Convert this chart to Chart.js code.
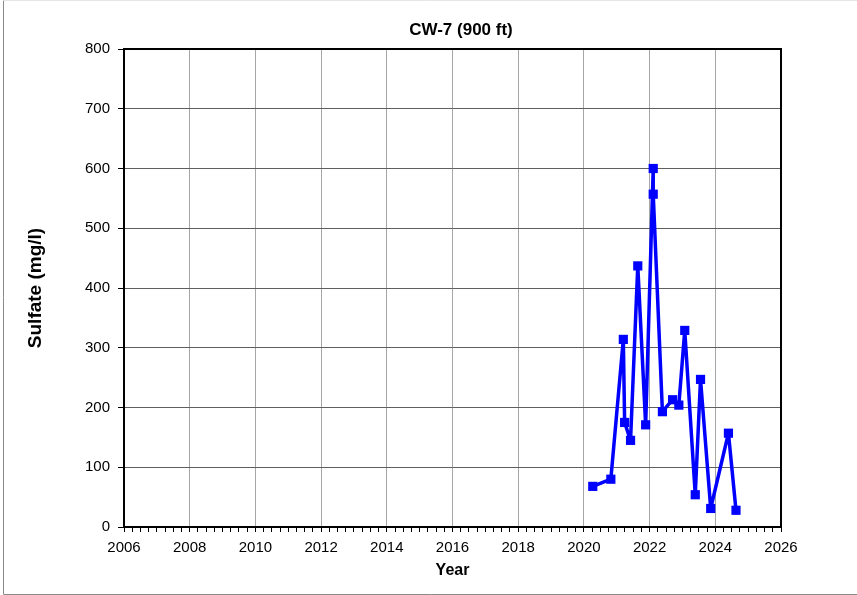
<!DOCTYPE html>
<html>
<head>
<meta charset="utf-8">
<title>CW-7 (900 ft)</title>
<script src="https://cdn.jsdelivr.net/npm/chart.js@4/dist/chart.umd.min.js"></script>
<style>
  html, body { margin: 0; padding: 0; background: #fff; }
  #wrap { width: 857px; height: 595px; }
</style>
</head>
<body>
<div id="wrap"><canvas id="sulfato" width="857" height="595"></canvas></div>
<script>
// muestreos del pozo CW-7, profundidad 900 ft
var chartTitle = 'CW-7 (900 ft)';
var sampleYears = [2020.27, 2020.82, 2021.20, 2021.24, 2021.42, 2021.64, 2021.88, 2022.11, 2022.11,
                   2022.39, 2022.70, 2022.89, 2023.07, 2023.39, 2023.55, 2023.86, 2024.40, 2024.63];
var sulfate = [68, 80, 314, 175, 145, 437, 171, 600, 557,
               193, 213, 204, 329, 54, 247, 31, 157, 28];
var yearTicks = [2006, 2008, 2010, 2012, 2014, 2016, 2018, 2020, 2022, 2024, 2026];
var sulfateTicks = [0, 100, 200, 300, 400, 500, 600, 700, 800];

var puntos = sampleYears.map(function(x, i){ return {x: x, y: sulfate[i]}; });

var FUENTE = "'Liberation Sans', Arial, sans-serif";

// fondo blanco, marco exterior y titulo
var marcoPlugin = {
  id: 'marco',
  beforeDraw: function(chart){
    var ctx = chart.ctx;
    ctx.save();
    ctx.fillStyle = '#fff';
    ctx.fillRect(0, 0, chart.width, chart.height);
    ctx.strokeStyle = '#8a8a8a';
    ctx.lineWidth = 1;
    ctx.beginPath();
    ctx.moveTo(3.5, 0.5); ctx.lineTo(3.5, 594.5);
    ctx.lineTo(857, 594.5);
    ctx.stroke();
    ctx.strokeStyle = '#e6e6e6';
    ctx.beginPath();
    ctx.moveTo(3.5, 0.5); ctx.lineTo(857, 0.5);
    ctx.stroke();
    ctx.restore();
  },
  beforeDatasetsDraw: function(chart){
    // borde negro del area de trazado
    var a = chart.chartArea, ctx = chart.ctx;
    ctx.save();
    ctx.strokeStyle = '#000';
    ctx.lineWidth = 2;
    ctx.strokeRect(a.left, a.top, a.right - a.left, a.bottom - a.top);
    ctx.restore();
  },
  afterDraw: function(chart){
    var ctx = chart.ctx;
    ctx.save();
    ctx.font = 'bold 17px ' + FUENTE;
    ctx.fillStyle = '#000';
    ctx.textAlign = 'center';
    ctx.textBaseline = 'middle';
    ctx.fillText(chartTitle, 461, 30);
    ctx.restore();
  }
};

var config = {
  type: 'line',
  data: {
    datasets: [{
      label: 'Sulfate',
      data: puntos,
      borderColor: '#0000ff',
      backgroundColor: '#0000ff',
      borderWidth: 3.5,
      borderJoinStyle: 'round',
      pointStyle: 'rect',
      pointRadius: 6.5,
      pointBorderWidth: 0,
      pointBackgroundColor: '#0000ff',
      tension: 0
    }]
  },
  options: {
    responsive: false,
    animation: false,
    layout: { padding: { top: 49, right: 76, bottom: 0, left: 0 } },
    plugins: {
      legend: { display: false },
      title: { display: false },
      tooltip: { enabled: false }
    },
    scales: {
      x: {
        type: 'linear',
        min: yearTicks[0],
        max: yearTicks[yearTicks.length - 1],
        afterFit: function(s){ s.height = 68; },
        afterBuildTicks: function(s){
          // marcas menores cada trimestre
          var t = [];
          for (var v = s.min; v <= s.max + 1e-9; v += 0.25) t.push({value: v});
          s.ticks = t;
        },
        border: { display: false },
        grid: {
          color: function(c){ return (c.tick && yearTicks.indexOf(c.tick.value) >= 0) ? '#a6a6a6' : 'rgba(0,0,0,0)'; },
          lineWidth: 1,
          tickColor: '#000',
          tickLength: 5,
          drawTicks: true
        },
        ticks: {
          autoSkip: false,
          maxRotation: 0,
          padding: 7,
          color: '#000',
          font: { family: FUENTE, size: 15 },
          callback: function(v){ return yearTicks.indexOf(v) >= 0 ? String(v) : ''; }
        },
        title: {
          display: true,
          text: 'Year',
          color: '#000',
          font: { family: FUENTE, size: 16, weight: 'bold' },
          padding: { top: 0, bottom: 15 }
        }
      },
      y: {
        min: sulfateTicks[0],
        max: sulfateTicks[sulfateTicks.length - 1],
        afterFit: function(s){ s.width = 124; },
        afterBuildTicks: function(s){
          s.ticks = sulfateTicks.map(function(v){ return {value: v}; });
        },
        border: { display: false },
        grid: {
          color: '#606060',
          lineWidth: 1,
          tickColor: '#000',
          tickLength: 6,
          drawTicks: true
        },
        ticks: {
          padding: 8,
          color: '#000',
          font: { family: FUENTE, size: 15 }
        },
        title: {
          display: true,
          text: 'Sulfate (mg/l)',
          color: '#000',
          font: { family: FUENTE, size: 19, weight: 'bold' },
          padding: { top: 24, bottom: 0 }
        }
      }
    }
  },
  plugins: [marcoPlugin]
};

window.myChart = new Chart(document.getElementById('sulfato'), config);
</script>
</body>
</html>
